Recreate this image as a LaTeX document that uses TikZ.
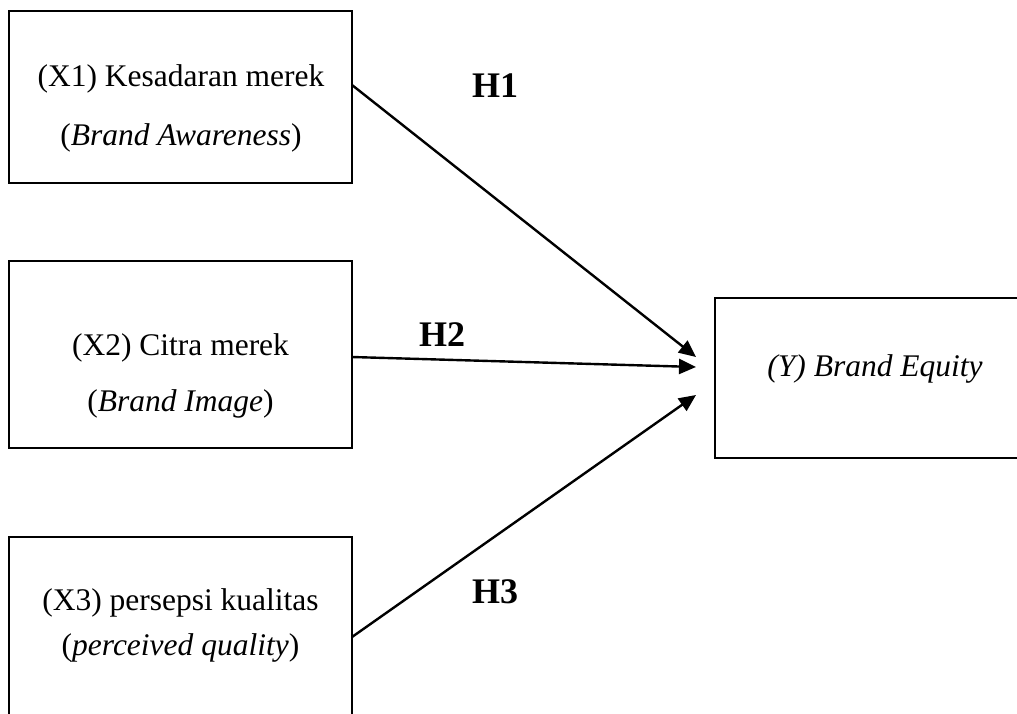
\documentclass[tikz,border=0pt]{standalone}
\usepackage{fontspec}
\setmainfont{Liberation Serif}
\usetikzlibrary{arrows.meta}
\begin{document}
\begin{tikzpicture}[x=1pt,y=-1pt,
  box/.style={draw,line width=2.2pt,rectangle,inner sep=0pt,outer sep=0pt},
  txt/.style={anchor=base,inner sep=0pt,font=\fontsize{31.5}{38}\selectfont},
  hyp/.style={anchor=base,inner sep=0pt,font=\fontsize{36}{40}\selectfont\bfseries},
  conn/.style={line width=2.4pt,-{Triangle[length=17pt,width=15pt]}}]
\clip (0,0) rectangle (1017,713);
\fill[white] (0,0) rectangle (1017,713);
% boxes
\node[box,minimum width=343pt,minimum height=172pt] (x1) at (180.5,97) {};
\node[box,minimum width=343pt,minimum height=187pt] (x2) at (180.5,354.5) {};
\node[box,minimum width=343pt,minimum height=223pt] (x3) at (180.5,648.5) {};
\node[box,minimum width=320pt,minimum height=160pt] (y) at (875,378) {};
% texts
\node[txt] (x1a) at (181,86) {(X1) Kesadaran merek};
\node[txt] (x1b) at (181,145) {(\textit{Brand Awareness})};
\node[txt] (x2a) at (180.5,355) {(X2) Citra merek};
\node[txt] (x2b) at (180.5,411) {(\textit{Brand Image})};
\node[txt] (x3a) at (180.5,610) {(X3) persepsi kualitas};
\node[txt] (x3b) at (180.5,655) {(\textit{perceived quality})};
\node[txt] (yt) at (875,376) {\textit{(Y) Brand Equity}};
% hypotheses
\node[hyp] (h1) at (495,97) {H1};
\node[hyp] (h2) at (442,346) {H2};
\node[hyp] (h3) at (495,603) {H3};
% connectors
\draw[conn] ([yshift=12pt]x1.east) -- ([xshift=-19pt,yshift=21pt]y.west);
\draw[conn] ([yshift=-2.5pt]x2.east) -- ([xshift=-19pt,yshift=11pt]y.west);
\draw[conn] ([yshift=11.5pt]x3.east) -- ([xshift=-19pt,yshift=-17pt]y.west);
\end{tikzpicture}
\end{document}
